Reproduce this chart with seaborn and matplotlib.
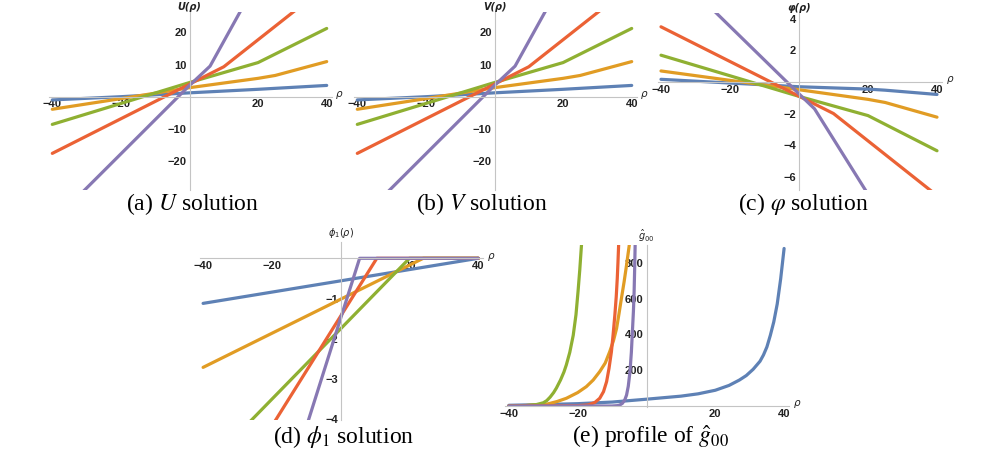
import matplotlib
matplotlib.use("Agg")
import matplotlib.pyplot as plt
import seaborn as sns
from matplotlib.ticker import MultipleLocator

# Mathematica-like default colours
colors = ["#5E81B5", "#E19C24", "#8FB032", "#EB6235", "#8778B3"]

# --- (a) U and (b) V : piecewise linear profiles (x, y) per curve ---
U_x = [
    [-40, -20, 0, 20, 25, 40],
    [-40, -20, 0, 20, 25, 40],
    [-40, 0, 20, 40],
    [-40, 0, 10, 40],
    [-40, 0, 6, 40],
]
U_y = [
    [-1.0, 0.0, 1.2, 2.3, 2.6, 3.5],
    [-3.9, -0.6, 2.8, 5.7, 6.6, 10.9],
    [-8.6, 4.4, 10.6, 21.2],
    [-17.6, 3.9, 9.3, 34.5],
    [-39.0, 3.5, 9.5, 75.0],
]
V_x = [list(r) for r in U_x]
V_y = [list(r) for r in U_y]

# --- (c) varphi ---
phi_x = [
    [-40, 0, 20, 25, 40],
    [-40, 0, 20, 25, 40],
    [-40, 0, 20, 40],
    [-40, 0, 10, 40],
    [-40, 0, 4.5, 40],
]
phi_y = [
    [0.17, -0.3, -0.45, -0.52, -0.79],
    [0.7, -0.49, -1.1, -1.3, -2.23],
    [1.7, -0.91, -2.13, -4.36],
    [3.5, -0.9, -2.0, -7.2],
    [7.8, -0.75, -1.7, -14.1],
]

# --- (d) phi_1 ---
phi1_x = [
    [-40, 40],
    [-40, 24, 40],
    [-40, 20, 40],
    [-40, 10.5, 40],
    [-40, 5.5, 40],
]
phi1_y = [
    [-1.12, 0.0],
    [-2.71, 0.0, 0.0],
    [-5.25, 0.0, 0.0],
    [-6.9, 0.0, 0.0],
    [-12.3, 0.0, 0.0],
]

# --- (e) g00 profile ---
g_x = [
    [-40, -30, -20, -10, 0, 10, 15, 20, 24, 27, 29, 31, 33, 34, 35, 36, 37, 38,
     39, 40],
    [-40, -35, -31, -29, -26, -23.3, -20, -17.5, -15.5, -13.6, -12, -10.7, -9.6,
     -8.7, -8, -7.3, -6.5, -5.8, -5],
    [-40, -35, -32, -30, -29, -28, -27, -26.2, -25, -24, -23.3, -22.3, -21.3,
     -20.5, -19.9, -19.4, -18.9],
    [-40, -20, -17, -16.5, -15, -13.6, -12.5, -11.6, -10.9, -10.2, -9.7, -9.2,
     -8.8, -8.5, -8.3, -8.1],
    [-40, -10, -8.5, -7.8, -7, -6.3, -5.8, -5.3, -4.8, -4.4, -4.1, -3.8, -3.6,
     -3.45, -3.3],
]
g_y = [
    [4, 8, 13, 22, 38, 55, 68, 88, 115, 145, 170, 205, 250, 285, 330, 395, 470,
     570, 710, 880],
    [0, 3, 7, 10, 25, 43, 75, 108, 145, 192, 240, 303, 365, 433, 515, 600, 695, 787, 900],
    [0, 2, 8, 18, 30, 50, 75, 100, 145, 190, 230, 300, 395, 510, 640, 760, 900],
    [0, 2, 6, 9, 20, 43, 80, 136, 210, 303, 400, 508, 610, 712, 800, 900],
    [0, 0, 2, 5, 15, 35, 61, 110, 192, 300, 415, 530, 638, 760, 900],
]

sns.set_style("white")
plt.rcParams["mathtext.fontset"] = "stix"

W, H = 996, 450
fig = plt.figure(figsize=(W / 100, H / 100), dpi=100)


def make_axes(x0, ppx, xlim, y0, ppy, ylim):
    # x0 / y0: pixel of data zero, ppx / ppy: pixels per data unit
    left = x0 + xlim[0] * ppx
    width = (xlim[1] - xlim[0]) * ppx
    top = y0 - ylim[1] * ppy
    height = (ylim[1] - ylim[0]) * ppy
    ax = fig.add_axes([left / W, 1 - (top + height) / H, width / W, height / H])
    ax.set_xlim(*xlim)
    ax.set_ylim(*ylim)
    return ax


def style_axes(ax, xticks, yticks, xminor, yminor, ylab, math=False):
    for s in ["top", "right"]:
        ax.spines[s].set_visible(False)
    ax.spines["left"].set_position(("data", 0))
    ax.spines["bottom"].set_position(("data", 0))
    for s in ["left", "bottom"]:
        ax.spines[s].set_color("#c4c4c4")
        ax.spines[s].set_linewidth(0.8)
    ax.set_xticks(xticks)
    ax.set_yticks(yticks)
    ax.xaxis.set_minor_locator(MultipleLocator(xminor))
    ax.yaxis.set_minor_locator(MultipleLocator(yminor))
    ax.tick_params(which="both", direction="in", color="#c4c4c4", width=0.7,
                   labelsize=8, labelcolor="#222222", pad=2)
    ax.tick_params(which="major", length=3)
    ax.tick_params(which="minor", length=1.6)
    for lbl in ax.get_xticklabels() + ax.get_yticklabels():
        lbl.set_fontweight("bold")
        lbl.set_family("Liberation Sans")
    ax.set_xlabel("")
    ax.set_ylabel("")
    ax.annotate("ρ", xy=(1, 0), xycoords=("axes fraction", "data"),
                xytext=(3, 2), textcoords="offset points", ha="left",
                va="center", fontsize=7.5, style="italic", color="#222222",
                family="DejaVu Sans")
    if math:
        ax.annotate(ylab, xy=(0, 1), xycoords=("data", "axes fraction"),
                    xytext=(0, 1), textcoords="offset points", ha="center",
                    va="bottom", fontsize=7, color="#222222",
                    math_fontfamily="dejavusans")
    else:
        ax.annotate(ylab, xy=(0, 1), xycoords=("data", "axes fraction"),
                    xytext=(0, 0.5), textcoords="offset points", ha="center",
                    va="bottom", fontsize=7, color="#222222", style="italic",
                    fontweight="bold", family="DejaVu Sans")


def draw(ax, xs, ys):
    for xv, yv, c in zip(xs, ys, colors):
        sns.lineplot(x=xv, y=yv, ax=ax, color=c, lw=2.3, sort=False,
                     estimator=None, legend=False)


lin_ticks = [-40, -20, 20, 40]

ax_a = make_axes(189.5, 3.43, (-41, 41.5), 96.7, 3.22, (-29, 26.2))
draw(ax_a, U_x, U_y)
style_axes(ax_a, lin_ticks, [-20, -10, 10, 20], 5, 2, "U(ρ)")

ax_b = make_axes(494.5, 3.43, (-41, 41.5), 96.7, 3.22, (-29, 26.2))
draw(ax_b, V_x, V_y)
style_axes(ax_b, lin_ticks, [-20, -10, 10, 20], 5, 2, "V(ρ)")

ax_c = make_axes(799, 3.45, (-41, 41.5), 82, 15.77, (-6.85, 4.36))
draw(ax_c, phi_x, phi_y)
style_axes(ax_c, lin_ticks, [-6, -4, -2, 2, 4], 5, 0.5, "φ(ρ)")

ax_d = make_axes(340.7, 3.44, (-41, 41.5), 258.3, 40.25, (-4.02, 0.41))
draw(ax_d, phi1_x, phi1_y)
style_axes(ax_d, lin_ticks, [-4, -3, -2, -1], 5, 0.2, r"$\phi_1(\rho)$",
           math=True)

ax_e = make_axes(646.5, 3.44, (-41, 41.5), 406, 0.179, (-8, 900))
draw(ax_e, g_x, g_y)
style_axes(ax_e, lin_ticks, [200, 400, 600, 800], 5, 50, r"$\hat{g}_{00}$",
           math=True)

captions = [
    (192, 204, r"(a) $U$ solution"),
    (482, 204, r"(b) $V$ solution"),
    (803, 204, r"(c) $\varphi$ solution"),
    (344, 437, r"(d) $\phi_1$ solution"),
    (650, 437, r"(e) profile of $\hat{g}_{00}$"),
]
for cx, cy, txt in captions:
    fig.text(cx / W, 1 - cy / H, txt, ha="center", va="center", fontsize=17,
             family="Liberation Serif", color="black")

fig.savefig("out.png", dpi=100)
